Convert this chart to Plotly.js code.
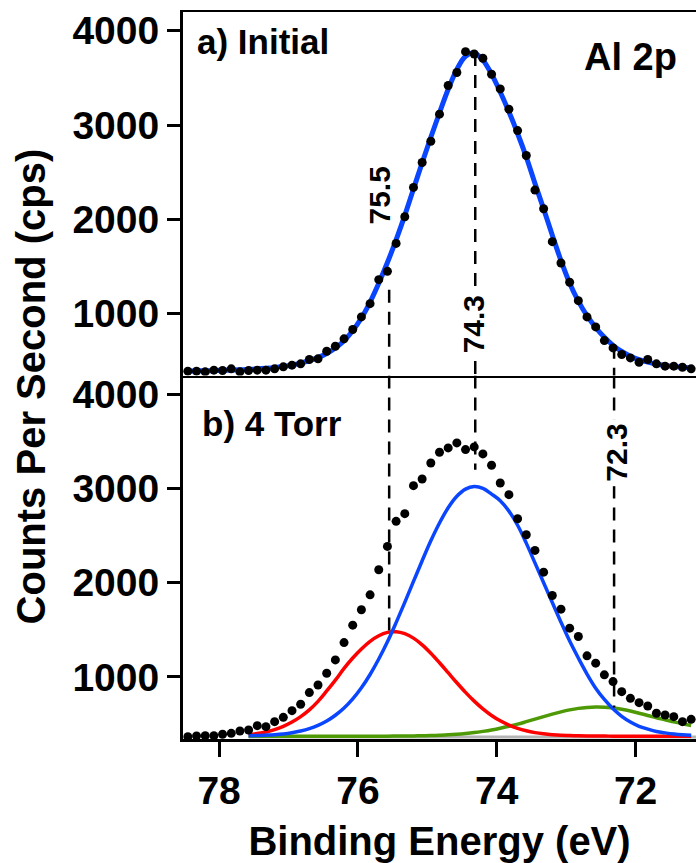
<!DOCTYPE html>
<html>
<head>
<meta charset="utf-8">
<script src="https://cdn.plot.ly/plotly-3.0.1.min.js"></script>
<style>
  html, body { margin: 0; padding: 0; background: #ffffff; }
  #chart { width: 696px; height: 863px; }
</style>
</head>
<body>
<div id="chart"></div>
<script>
// Binding energy grid (eV)
const energy = [78.45, 78.325, 78.2, 78.075, 77.95, 77.825, 77.7, 77.575, 77.45, 77.325,
  77.2, 77.075, 76.95, 76.825, 76.7, 76.575, 76.45, 76.325, 76.2, 76.075,
  75.95, 75.825, 75.7, 75.575, 75.45, 75.325, 75.2, 75.075, 74.95, 74.825,
  74.7, 74.575, 74.45, 74.325, 74.2, 74.075, 73.95, 73.825, 73.7, 73.575,
  73.45, 73.325, 73.2, 73.075, 72.95, 72.825, 72.7, 72.575, 72.45, 72.325,
  72.2, 72.075, 71.95, 71.825, 71.7, 71.575, 71.45, 71.325, 71.2];

// a) Initial: measured counts and fit envelope
const initialCounts = [386, 386, 379, 397, 393, 411, 379, 393, 397, 397,
  411, 432, 450, 464, 510, 517, 598, 651, 729, 828,
  962, 1103, 1358, 1446, 1743, 2026, 2337, 2602, 2828, 3115,
  3419, 3557, 3779, 3754, 3709, 3539, 3383, 3168, 2941, 2676,
  2309, 2111, 1761, 1535, 1330, 1135, 962, 856, 711, 633,
  563, 527, 481, 510, 464, 439, 439, 428, 411];
const initialFit = [388, 389, 390, 392, 394, 397, 400, 404, 409, 416,
  425, 437, 452, 472, 497, 530, 574, 632, 710, 815,
  950, 1120, 1320, 1540, 1780, 2040, 2320, 2600, 2870, 3130,
  3380, 3590, 3730, 3765, 3690, 3540, 3350, 3140, 2910, 2660,
  2380, 2110, 1830, 1560, 1320, 1130, 975, 850, 745, 660,
  595, 545, 508, 482, 462, 447, 436, 428, 421];

// b) 4 Torr: measured counts
const torrCounts = [365, 372, 375, 375, 390, 400, 425, 436, 482, 471,
  524, 570, 641, 709, 833, 914, 1038, 1180, 1364, 1549,
  1712, 1871, 2137, 2385, 2651, 2733, 3030, 3101, 3271, 3385,
  3431, 3484, 3413, 3442, 3367, 3247, 3059, 2935, 2679, 2509,
  2343, 2112, 1864, 1719, 1517, 1428, 1223, 1145, 1021, 950,
  843, 772, 726, 691, 613, 595, 577, 524, 549];

// b) fitted components (start at 77.575 eV)
const fitEnergy = [77.575, 77.45, 77.325,
  77.2, 77.075, 76.95, 76.825, 76.7, 76.575, 76.45, 76.325, 76.2, 76.075,
  75.95, 75.825, 75.7, 75.575, 75.45, 75.325, 75.2, 75.075, 74.95, 74.825,
  74.7, 74.575, 74.45, 74.325, 74.2, 74.075, 73.95, 73.825, 73.7, 73.575,
  73.45, 73.325, 73.2, 73.075, 72.95, 72.825, 72.7, 72.575, 72.45, 72.325,
  72.2, 72.075, 71.95, 71.825, 71.7, 71.575, 71.45, 71.325, 71.2];
const comp743 = [375, 377, 381, 386, 394, 407, 425, 450, 485, 531,
  592, 669, 766, 884, 1025, 1189, 1372, 1576, 1791, 2013,
  2233, 2445, 2634, 2795, 2917, 2993, 3020, 3001, 2941, 2870,
  2760, 2610, 2420, 2210, 2000, 1790, 1580, 1380, 1200, 1030,
  880, 760, 660, 580, 520, 475, 445, 420, 405, 393,
  385, 380];
const comp755 = [385, 398, 415, 440, 475, 520, 578, 650, 740, 850,
  965, 1090, 1200, 1296, 1377, 1437, 1472, 1479, 1458, 1411,
  1340, 1251, 1150, 1044, 937, 835, 742, 660, 590, 533,
  488, 453, 427, 408, 395, 386, 380, 377, 374, 372,
  371, 371, 370, 370, 370, 370, 370, 370, 370, 370,
  370, 370];
const comp723 = [370, 370, 370, 370, 370, 370, 370, 370, 370, 370,
  370, 370, 370, 370, 370, 370, 370, 371, 372, 373,
  375, 377, 380, 384, 390, 398, 408, 421, 436, 454,
  475, 498, 524, 551, 578, 604, 628, 649, 665, 675,
  680, 678, 670, 656, 637, 614, 590, 566, 545, 522,
  502, 484];
const bgEnergy = [77.575, 71.13];
const bgCounts = [362, 362];

// tick labels / markers
const xTicks = [78, 76, 74, 72];
const yTicks = [1000, 2000, 3000, 4000];
const peakLabels = ['75.5', '74.3', '72.3'];
const peakLines = [75.55, 74.31, 72.31];
const topLineStart = [1250, 3765, 655];   // where each dashed line begins in panel a
const bottomLineEnd = [1470, 3200, 675];  // where each dashed line ends in panel b

const FONT = 'Liberation Sans, Arial, Helvetica, sans-serif';
const BLUE = '#0a45ff', RED = '#ff0000', GREEN = '#4e9a06';

const traces = [
  {x: energy, y: initialFit, xaxis: 'x2', yaxis: 'y2', mode: 'lines',
   line: {color: BLUE, width: 5, shape: 'spline'}, hoverinfo: 'skip'},
  {x: energy, y: initialCounts, xaxis: 'x2', yaxis: 'y2', mode: 'markers',
   marker: {color: '#000000', size: 9}},
  {x: bgEnergy, y: bgCounts, xaxis: 'x', yaxis: 'y', mode: 'lines',
   line: {color: '#b4b4b4', width: 3}},
  {x: fitEnergy, y: comp723, xaxis: 'x', yaxis: 'y', mode: 'lines',
   line: {color: GREEN, width: 3.5, shape: 'spline'}},
  {x: fitEnergy, y: comp755, xaxis: 'x', yaxis: 'y', mode: 'lines',
   line: {color: RED, width: 3.5, shape: 'spline'}},
  {x: fitEnergy, y: comp743, xaxis: 'x', yaxis: 'y', mode: 'lines',
   line: {color: BLUE, width: 3.5, shape: 'spline'}},
  {x: energy, y: torrCounts, xaxis: 'x', yaxis: 'y', mode: 'markers',
   marker: {color: '#000000', size: 9}}
];

const yRange = [340, 4200];
const tickFont = {family: FONT, size: 39, color: '#000', weight: 'bold'};

const shapes = [];
peakLines.forEach((e, i) => {
  shapes.push({type: 'line', xref: 'x', yref: 'y2', x0: e, x1: e,
    y0: topLineStart[i], y1: yRange[0], line: {color: '#000', width: 2.5, dash: '13px,9px'}});
  shapes.push({type: 'line', xref: 'x', yref: 'y', x0: e, x1: e,
    y0: yRange[1], y1: bottomLineEnd[i], line: {color: '#000', width: 2.5, dash: '13px,9px'}});
});

const layout = {
  width: 696, height: 863,
  margin: {l: 183, r: 0, t: 12, b: 124},
  paper_bgcolor: '#ffffff', plot_bgcolor: '#ffffff',
  showlegend: false,
  font: {family: FONT, color: '#000'},
  xaxis: {
    domain: [0, 1], anchor: 'y', range: [78.52, 71.13],
    tickvals: xTicks, ticktext: xTicks.map(String),
    ticks: 'outside', ticklen: 15, tickwidth: 3, tickcolor: '#000',
    showline: true, linewidth: 3, linecolor: '#000',
    showgrid: false, zeroline: false, tickfont: tickFont,
    title: {text: 'Binding Energy (eV)', font: {family: FONT, size: 40, weight: 'bold', color: '#000'}, standoff: 17}
  },
  xaxis2: {
    domain: [0, 1], anchor: 'y2', matches: 'x', range: [78.52, 71.13],
    showticklabels: false, ticks: '', showline: true, mirror: true,
    linewidth: 2, linecolor: '#000', showgrid: false, zeroline: false
  },
  yaxis: {
    domain: [0, 0.5], anchor: 'x', range: yRange,
    tickvals: yTicks, ticks: 'outside', ticklen: 13, tickwidth: 3, tickcolor: '#000',
    showline: true, linewidth: 3, linecolor: '#000',
    showgrid: false, zeroline: false, tickfont: tickFont
  },
  yaxis2: {
    domain: [0.5, 1], anchor: 'x2', range: yRange,
    tickvals: yTicks, ticks: 'outside', ticklen: 13, tickwidth: 3, tickcolor: '#000',
    showline: true, linewidth: 3, linecolor: '#000',
    showgrid: false, zeroline: false, tickfont: tickFont
  },
  shapes: shapes,
  annotations: [
    {text: 'Counts Per Second (cps)', xref: 'paper', yref: 'paper', x: 0, y: 0.485,
     xanchor: 'center', yanchor: 'middle', xshift: -152, textangle: -90, showarrow: false,
     font: {family: FONT, size: 40, weight: 'bold', color: '#000'}},
    {text: 'a) Initial', xref: 'paper', yref: 'paper', x: 0.0234, y: 0.96,
     xanchor: 'left', yanchor: 'middle', showarrow: false,
     font: {family: FONT, size: 35, weight: 'bold', color: '#000'}},
    {text: 'Al 2p', xref: 'paper', yref: 'paper', x: 0.873, y: 0.938,
     xanchor: 'center', yanchor: 'middle', showarrow: false,
     font: {family: FONT, size: 38, weight: 'bold', color: '#000'}},
    {text: 'b) 4 Torr', xref: 'paper', yref: 'paper', x: 0.0331, y: 0.434,
     xanchor: 'left', yanchor: 'middle', showarrow: false,
     font: {family: FONT, size: 35, weight: 'bold', color: '#000'}},
    {text: peakLabels[0], xref: 'paper', yref: 'paper', x: 0.3827, y: 0.748,
     xanchor: 'center', yanchor: 'middle', textangle: -90, showarrow: false,
     font: {family: FONT, size: 30, weight: 'bold', color: '#000'}},
    {text: peakLabels[1], xref: 'paper', yref: 'paper', x: 0.5659, y: 0.5708,
     xanchor: 'center', yanchor: 'middle', textangle: -90, showarrow: false,
     bgcolor: '#ffffff', borderpad: 4,
     font: {family: FONT, size: 30, weight: 'bold', color: '#000'}},
    {text: peakLabels[2], xref: 'paper', yref: 'paper', x: 0.8454, y: 0.3934,
     xanchor: 'center', yanchor: 'middle', textangle: -90, showarrow: false,
     bgcolor: '#ffffff', borderpad: 4,
     font: {family: FONT, size: 30, weight: 'bold', color: '#000'}}
  ]
};

Plotly.newPlot('chart', traces, layout, {displayModeBar: false, staticPlot: true});
</script>
</body>
</html>
